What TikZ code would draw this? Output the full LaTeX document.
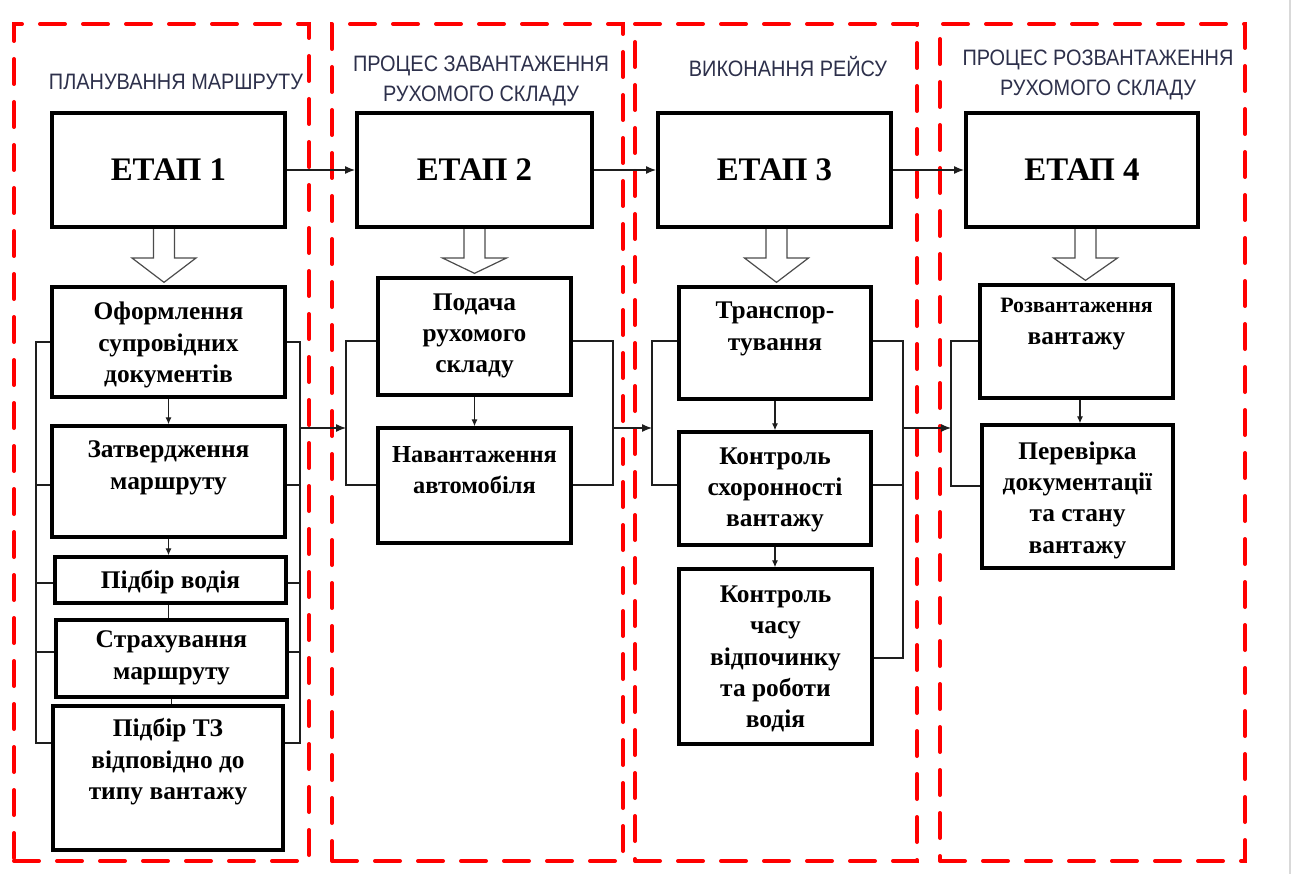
\documentclass[tikz,border=0pt]{standalone}
\usepackage{fontspec}
\setmainfont{Liberation Serif}
\setsansfont{Liberation Sans}
\usetikzlibrary{arrows.meta,calc}
\definecolor{titlecol}{RGB}{45,48,75}
\definecolor{linkcol}{RGB}{30,30,30}

\tikzset{
  frame/.style={draw=red, line width=4bp, dash pattern=on 25bp off 18bp, line cap=round, inner sep=0},
  stagebox/.style={draw, line width=4bp, minimum width=232bp, minimum height=114bp, inner sep=0,
    font=\fontsize{33}{38}\selectfont\bfseries},
  subbox/.style={draw, line width=3.3bp, inner sep=0},
  subtext/.style={font=\fontsize{25.5}{31.5}\selectfont\bfseries, align=center, inner sep=0},
  title/.style={font=\sffamily\fontsize{20}{27}\selectfont, text=titlecol, align=center, inner sep=0, yscale=1.12},
  link/.style={draw=linkcol, line width=1.2bp},
  flow/.style={link, -{Latex[length=10bp,width=8bp]}},
  small flow/.style={link, -{Latex[length=7bp,width=6bp]}},
  hollow/.style={draw=black!70, line width=1.2bp, fill=white, line join=miter}
}

% hollow block arrow: #1 = stage box, #2 = target box, #3 = x offset of the arrow axis
\newcommand\blockarrow[3]{%
  \path ($(#1.south)+(#3,0)$) coordinate (ba-top)
        ($(#2.north)+(0,-3)$) coordinate (ba-end);
  \draw[hollow] ($(ba-top)+(-10.5,0)$) -- ++(0,29) -- ++(-21.5,0)
    -- (ba-top |- ba-end) -- ($(ba-top)+(32,29)$) -- ++(-21.5,0) -- ++(0,-29);}

\begin{document}
\begin{tikzpicture}[x=1bp, y=-1bp]
\useasboundingbox (0,0) rectangle (1298,874);
\fill[white] (0,0) rectangle (1298,874);
\draw[gray!30, line width=1.5bp] (1290,0) -- (1290,874);

% ---- dashed stage frames ----
\node[frame, minimum width=295bp, minimum height=837bp] (f1) at (161.5,442.5) {};
\node[frame, minimum width=291bp, minimum height=837bp] (f2) at (477.5,442.5) {};
\node[frame, minimum width=282bp, minimum height=837bp] (f3) at (776,442.5) {};
\node[frame, minimum width=305bp, minimum height=837bp] (f4) at (1092.5,442.5) {};

% ---- frame titles ----
\node[title] (h1) at (176,82) {ПЛАНУВАННЯ МАРШРУТУ};
\node[title] (h2) at (481,81) {ПРОЦЕС ЗАВАНТАЖЕННЯ\\РУХОМОГО СКЛАДУ};
\node[title] (h3) at (788,67) {ВИКОНАННЯ РЕЙСУ};
\node[title] (h4) at (1098,75) {ПРОЦЕС РОЗВАНТАЖЕННЯ\\РУХОМОГО СКЛАДУ};

% ---- stage boxes ----
\node[stagebox] (s1) at (168.5,170) {ЕТАП 1};
\node[stagebox, minimum width=235bp] (s2) at (474.5,170) {ЕТАП 2};
\node[stagebox, minimum width=233bp] (s3) at (774.5,170) {ЕТАП 3};
\node[stagebox] (s4) at (1082,170) {ЕТАП 4};

\draw[flow] (s1) -- (s2);
\draw[flow] (s2) -- (s3);
\draw[flow] (s3) -- (s4);

% ---- column 1: route planning ----
\node[subbox, minimum width=233bp, minimum height=110bp] (o1) at (168.5,342) {};
\node[subtext] (o1t) at (168.5,345) {Оформлення\\супровідних\\документів};
\node[subbox, minimum width=233bp, minimum height=111bp] (o2) at (168.5,481.5) {};
\node[subtext] (o2t) at (168.5,468) {Затвердження\\маршруту};
\node[subbox, minimum width=231bp, minimum height=46bp] (o3) at (170.5,580) {};
\node[subtext] (o3t) at (170.5,582) {Підбір водія};
\node[subbox, minimum width=231bp, minimum height=77bp] (o4) at (171.5,658.5) {};
\node[subtext] (o4t) at (171.5,658) {Страхування\\маршруту};
\node[subbox, minimum width=230bp, minimum height=144bp] (o5) at (168,778) {};
\node[subtext] (o5t) at (168,762) {Підбір ТЗ\\відповідно до\\типу вантажу};

\draw[small flow] (o1.south) -- (o2.north);
\draw[small flow] (o2.south) -- (o3.north -| o2.south);
\draw[link] (o3.south -| o2.south) -- (o4.north -| o2.south);
\draw[link] (o4.south) -- (o5.north -| o4.south);

\coordinate (L1t) at (36,342);  \coordinate (L1b) at (36,743);
\coordinate (R1t) at (300,342); \coordinate (R1b) at (300,743);
\draw[link] (o1.west |- L1t) -- (L1t) -- (L1b) -- (o5.west |- L1b);
\draw[link] (o1.east |- R1t) -- (R1t) -- (R1b) -- (o5.east |- R1b);
\foreach \n/\y in {o2/485, o3/583, o4/652}{
  \draw[link] (\n.west |- 0,\y) -- (L1t |- 0,\y);
  \draw[link] (\n.east |- 0,\y) -- (R1t |- 0,\y);
}

% ---- column 2: loading ----
\node[subbox, minimum width=193bp, minimum height=117bp] (p1) at (474.5,336.5) {};
\node[subtext] (p1t) at (474.5,336) {Подача\\рухомого\\складу};
\node[subbox, minimum width=193bp, minimum height=115bp] (p2) at (474.5,485.5) {};
\node[subtext, font=\fontsize{24.5}{31.5}\selectfont\bfseries] (p2t) at (474.5,470) {Навантаження\\автомобіля};
\draw[small flow] (p1.south) -- (p2.north);

\coordinate (L2t) at (346,341); \coordinate (L2b) at (346,485);
\coordinate (R2t) at (613,341); \coordinate (R2b) at (613,485);
\draw[link] (p1.west |- L2t) -- (L2t) -- (L2b) -- (p2.west |- L2b);
\draw[link] (p1.east |- R2t) -- (R2t) -- (R2b) -- (p2.east |- R2b);

% ---- column 3: trip ----
\node[subbox, minimum width=192bp, minimum height=112bp] (q1) at (775,343) {};
\node[subtext] (q1t) at (775,329) {Транспор-\\тування};
\node[subbox, minimum width=192bp, minimum height=113bp] (q2) at (775,488.5) {};
\node[subtext] (q2t) at (775,490) {Контроль\\схоронності\\вантажу};
\node[subbox, minimum width=193bp, minimum height=175bp] (q3) at (775.5,656.5) {};
\node[subtext] (q3t) at (775.5,659) {Контроль\\часу\\відпочинку\\та роботи\\водія};
\draw[small flow] (q1.south) -- (q2.north);
\draw[small flow] (q2.south) -- (q3.north -| q2.south);

\coordinate (L3t) at (652,341); \coordinate (L3b) at (652,485);
\coordinate (R3t) at (903,341); \coordinate (R3b) at (903,658);
\draw[link] (q1.west |- L3t) -- (L3t) -- (L3b) -- (q2.west |- L3b);
\draw[link] (q1.east |- R3t) -- (R3t) -- (R3b) -- (q3.east |- R3b);
\draw[link] (q2.east |- 0,485) -- (R3t |- 0,485);

% ---- column 4: unloading ----
\node[subbox, minimum width=193bp, minimum height=113bp] (r1) at (1076.5,341.5) {};
\node[subtext] (r1t) at (1076.5,324) {{\fontsize{22}{31.5}\selectfont Розвантаження}\\вантажу};
\node[subbox, minimum width=191bp, minimum height=143bp] (r2) at (1077.5,496.5) {};
\node[subtext] (r2t) at (1077.5,500) {Перевірка\\документації\\та стану\\вантажу};
\draw[small flow] (r1.south -| 1080,0) -- (r2.north -| 1080,0);

\coordinate (L4t) at (951,341); \coordinate (L4b) at (951,486);
\draw[link] (r1.west |- L4t) -- (L4t) -- (L4b) -- (r2.west |- L4b);

% ---- transfers between columns ----
\coordinate (m1) at (300,428);
\coordinate (m2) at (613,428);
\coordinate (m3) at (903,428);
\draw[flow] (m1) -- (L2t |- m1);
\draw[flow] (m2) -- (L3t |- m2);
\draw[flow] (m3) -- (L4t |- m3);

% ---- hollow arrows from each stage ----
\blockarrow{s1}{o1}{-4.5}
\blockarrow{s2}{p1}{0}
\blockarrow{s3}{q1}{2}
\blockarrow{s4}{r1}{3.5}
\end{tikzpicture}
\end{document}
